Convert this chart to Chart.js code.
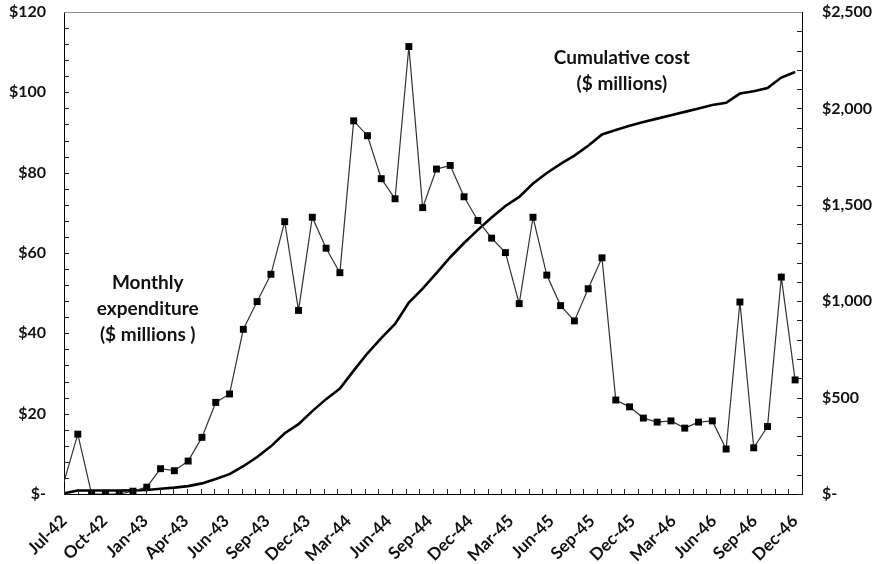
<!DOCTYPE html>
<html><head><meta charset="utf-8">
<script src="https://cdn.jsdelivr.net/npm/chart.js@4.4.0/dist/chart.umd.min.js"></script>
<style>html,body{margin:0;padding:0;background:#fff}#wrap{width:882px;height:564px;position:relative}</style>
</head><body><div id="wrap"><canvas id="c" width="882" height="564"></canvas></div>
<script>
const months = ['Jul-42','Aug-42','Sep-42','Oct-42','Nov-42','Dec-42',
  'Jan-43','Feb-43','Mar-43','Apr-43','May-43','Jun-43','Jul-43','Aug-43','Sep-43','Oct-43','Nov-43','Dec-43',
  'Jan-44','Feb-44','Mar-44','Apr-44','May-44','Jun-44','Jul-44','Aug-44','Sep-44','Oct-44','Nov-44','Dec-44',
  'Jan-45','Feb-45','Mar-45','Apr-45','May-45','Jun-45','Jul-45','Aug-45','Sep-45','Oct-45','Nov-45','Dec-45',
  'Jan-46','Feb-46','Mar-46','Apr-46','May-46','Jun-46','Jul-46','Aug-46','Sep-46','Oct-46','Nov-46','Dec-46'];

// Tick labels printed under the x axis (evenly spaced along the axis)
const xTickLabels = ['Jul-42','Oct-42','Jan-43','Apr-43','Jun-43','Sep-43','Dec-43','Mar-44','Jun-44',
  'Sep-44','Dec-44','Mar-45','Jun-45','Sep-45','Dec-45','Mar-46','Jun-46','Sep-46','Dec-46'];

// Monthly expenditure ($ millions), left axis
const monthly = [3, 14.9, 0, 0, 0, 0.7,
  1.7, 6.3, 5.8, 8.2, 14.1, 22.8, 24.9, 41.0, 47.9, 54.7, 67.8, 45.7,
  68.9, 61.2, 55.1, 92.9, 89.2, 78.5, 73.5, 111.4, 71.3, 80.9, 81.8, 74.0,
  68.1, 63.7, 60.1, 47.4, 68.9, 54.5, 46.9, 43.1, 51.1, 58.8, 23.4, 21.7,
  18.9, 17.9, 18.2, 16.4, 17.9, 18.2, 11.2, 47.8, 11.5, 16.8, 54.0, 28.4];

// Cumulative cost ($ millions), right axis
const cumulative = [3, 18, 18, 18, 18, 19,
  21, 27, 33, 41, 55, 78, 103, 144, 192, 247, 315, 362,
  430, 492, 547, 640, 730, 808, 882, 993, 1065, 1146, 1228, 1302,
  1370, 1434, 1494, 1541, 1610, 1665, 1712, 1755, 1806, 1865, 1888, 1910,
  1929, 1947, 1965, 1982, 2000, 2018, 2029, 2077, 2089, 2106, 2160, 2189];

const leftMax = 120, leftStep = 20, leftMinor = 4;
const rightMax = 2500, rightStep = 500, rightMinor = 100;

const monthlyLabel = ['Monthly', 'expenditure', '($ millions )'];
const cumulativeLabel = ['Cumulative cost', '($ millions)'];

const FONT = 'Lato, "Open Sans", sans-serif';
const lastIdx = months.length - 1;
const xMax = lastIdx + 0.5;

const decor = {
  id: 'decor',
  afterDraw(chart) {
    const {ctx, chartArea: a, scales: {x, y, y2}} = chart;
    ctx.save();
    ctx.strokeStyle = '#222';
    ctx.lineWidth = 1;
    ctx.beginPath();
    const nMinor = months.length; // minor tick marks along the category axis
    for (let j = 0; j <= nMinor; j++) {
      const px = Math.round(x.getPixelForValue(j * xMax / nMinor)) + 0.5;
      ctx.moveTo(px, a.bottom); ctx.lineTo(px, a.bottom - 5);
    }
    for (let v = 0; v <= leftMax; v += leftMinor) {
      const py = Math.round(y.getPixelForValue(v)) + 0.5;
      ctx.moveTo(a.left, py); ctx.lineTo(a.left + 5, py);
    }
    for (let v = 0; v <= rightMax; v += rightMinor) {
      const py = Math.round(y2.getPixelForValue(v)) + 0.5;
      ctx.moveTo(a.right, py); ctx.lineTo(a.right - 5, py);
    }
    ctx.stroke();
    ctx.strokeStyle = '#888';
    ctx.beginPath();
    ctx.moveTo(a.left, a.top + 0.5); ctx.lineTo(a.right, a.top + 0.5);
    ctx.stroke();

    ctx.fillStyle = '#111';
    ctx.font = 'bold 19px ' + FONT;
    ctx.textAlign = 'center';
    ctx.textBaseline = 'middle';
    const cx1 = x.getPixelForValue(6.07), cy1 = y.getPixelForValue(52.6);
    monthlyLabel.forEach((t, i) => ctx.fillText(t, cx1, cy1 + i * 26));
    const cx2 = x.getPixelForValue(40.44), cy2 = y.getPixelForValue(108.6);
    cumulativeLabel.forEach((t, i) => ctx.fillText(t, cx2, cy2 + i * 26));
    ctx.restore();
  }
};

const ptsMonthly = monthly.map((v, i) => ({x: i, y: v}));
const ptsCum = cumulative.map((v, i) => ({x: i, y: v}));

const fitY = (w) => (s) => { s.width = w; s.paddingTop = 0; s.paddingBottom = 0; };

new Chart(document.getElementById('c'), {
  type: 'line',
  data: {
    datasets: [
      {
        label: 'Cumulative cost ($ millions)',
        data: ptsCum,
        yAxisID: 'y2',
        borderColor: '#000',
        borderWidth: 2.6,
        pointRadius: 0,
        tension: 0,
        order: 2
      },
      {
        label: 'Monthly expenditure ($ millions)',
        data: ptsMonthly,
        yAxisID: 'y',
        borderColor: '#333',
        borderWidth: 1.2,
        pointStyle: 'rect',
        pointRadius: (c) => c.dataIndex === 0 ? 0 : 4.9,
        pointBackgroundColor: '#000',
        pointBorderColor: '#000',
        pointBorderWidth: 0,
        tension: 0,
        order: 1
      }
    ]
  },
  options: {
    responsive: false,
    animation: false,
    devicePixelRatio: 1,
    layout: {padding: {top: 12, left: 0, right: 0, bottom: 0}},
    plugins: {legend: {display: false}, tooltip: {enabled: false}},
    scales: {
      x: {
        type: 'linear',
        min: 0,
        max: xMax,
        afterFit: (s) => { s.height = 70; },
        afterBuildTicks: (s) => {
          const n = xTickLabels.length - 1;
          s.ticks = xTickLabels.map((t, k) => ({value: k * lastIdx / n}));
        },
        grid: {display: true, drawOnChartArea: false, drawTicks: false},
        border: {display: true, color: '#000', width: 1},
        ticks: {
          autoSkip: false,
          minRotation: 45,
          maxRotation: 45,
          padding: 17,
          color: '#111',
          font: {family: FONT, size: 17, weight: 'bold'},
          callback: (v, i) => xTickLabels[i]
        }
      },
      y: {
        type: 'linear',
        position: 'left',
        min: 0,
        max: leftMax,
        afterFit: fitY(64),
        grid: {display: true, drawOnChartArea: false, drawTicks: false},
        border: {display: true, color: '#000', width: 1},
        ticks: {
          stepSize: leftStep,
          padding: 18,
          color: '#111',
          font: {family: FONT, size: 16, weight: 'bold'},
          callback: (v) => v === 0 ? '$-' : '$' + v
        }
      },
      y2: {
        type: 'linear',
        position: 'right',
        min: 0,
        max: rightMax,
        afterFit: fitY(80),
        grid: {display: true, drawOnChartArea: false, drawTicks: false},
        border: {display: true, color: '#000', width: 1},
        ticks: {
          stepSize: rightStep,
          padding: 20,
          color: '#111',
          font: {family: FONT, size: 16, weight: 'bold'},
          callback: (v) => v === 0 ? '$-' : '$' + v.toLocaleString('en-US')
        }
      }
    }
  },
  plugins: [decor]
});
</script>
</body></html>
